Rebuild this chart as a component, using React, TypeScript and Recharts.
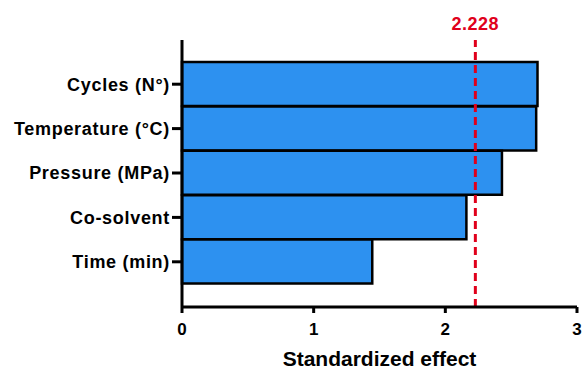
import React from "react";
import { Bar, BarChart, Cell, ReferenceLine, XAxis, YAxis } from "recharts";

const factors = ["Cycles (N°)", "Temperature (°C)", "Pressure (MPa)", "Co-solvent", "Time (min)"];
const effects = [2.7, 2.69, 2.43, 2.16, 1.445];
const xTicks = [0, 1, 2, 3];
const critical = 2.228;

const chartData = factors.map((name, i) => ({ name, effect: effects[i] }));

const font = "'Liberation Sans', Arial, sans-serif";

export default function App() {
  return (
    <div style={{ position: "absolute", left: 0, top: 0, background: "#fff" }}>
      <BarChart
        width={582}
        height={371}
        data={chartData}
        layout="vertical"
        barCategoryGap={0}
        margin={{ top: 40, right: 5, left: 0, bottom: 0 }}
      >
        <XAxis
          type="number"
          domain={[0, 3]}
          ticks={xTicks}
          height={64}
          stroke="#000"
          strokeWidth={3}
          tickSize={6}
          tickMargin={10}
          tick={{ fill: "#000", fontSize: 17, fontWeight: 700, fontFamily: font }}
          label={{
            value: "Standardized effect",
            position: "insideBottom",
            offset: 5,
            fill: "#000",
            fontSize: 21,
            fontWeight: 700,
            fontFamily: font,
          }}
        />
        <YAxis
          type="category"
          dataKey="name"
          width={182}
          padding={{ top: 22, bottom: 23 }}
          stroke="#000"
          strokeWidth={3}
          tickSize={10}
          tickMargin={2}
          tick={{ fill: "#000", fontSize: 18, fontWeight: 700, fontFamily: font, letterSpacing: 0.7 }}
        />
        <Bar dataKey="effect" fill="#2D91F0" stroke="#000" strokeWidth={2.5} isAnimationActive={false}>
          {chartData.map((d) => (
            <Cell key={d.name} />
          ))}
        </Bar>
        <ReferenceLine
          x={critical}
          stroke="#E0001B"
          strokeWidth={3}
          strokeDasharray="8 5"
          label={{
            value: "2.228",
            position: "top",
            offset: 10,
            fill: "#E0001B",
            fontSize: 18,
            fontWeight: 700,
            fontFamily: font,
            letterSpacing: 0.5,
          }}
        />
      </BarChart>
    </div>
  );
}
